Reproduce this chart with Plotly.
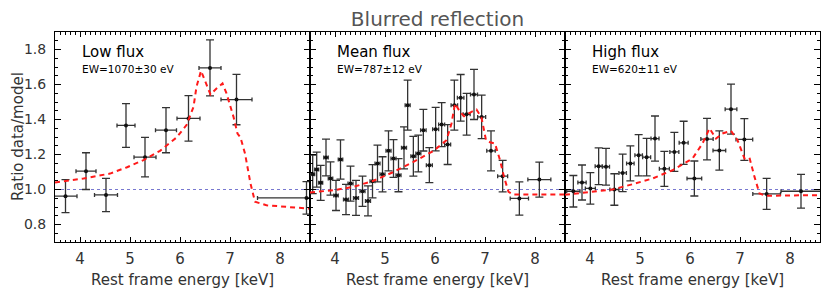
import plotly.graph_objects as go
from plotly.subplots import make_subplots

# ---------------- data ----------------
panel_names = ["Low flux", "Mean flux", "High flux"]
panel_ew = ["EW=1070±30 eV", "EW=787±12 eV", "EW=620±11 eV"]

low_x = [3.71, 4.12, 4.52, 4.92, 5.30, 5.72, 6.17, 6.60, 7.13, 8.53]
low_xerr = [0.23, 0.20, 0.23, 0.18, 0.22, 0.21, 0.23, 0.22, 0.31, 0.98]
low_y = [0.962, 1.105, 0.969, 1.366, 1.185, 1.339, 1.406, 1.695, 1.514, 0.952]
low_yerr = [0.094, 0.105, 0.095, 0.125, 0.113, 0.129, 0.130, 0.160, 0.144, 0.093]

low_model_x = [3.5, 4.07, 4.6, 4.93, 5.27, 5.6, 5.93, 6.13, 6.27, 6.33, 6.42, 6.5,
               6.61, 6.73, 6.85, 6.93, 7.07, 7.15, 7.21, 7.3, 7.41, 7.5, 7.73, 8.6]
low_model_y = [1.040, 1.063, 1.091, 1.126, 1.168, 1.221, 1.297, 1.368, 1.472, 1.587, 1.678, 1.625,
               1.543, 1.577, 1.606, 1.549, 1.415, 1.32, 1.297, 1.206, 1.034, 0.93, 0.91, 0.89]

mean_x = [3.554, 3.634, 3.714, 3.82, 3.91, 4.02, 4.11, 4.22, 4.31, 4.42, 4.55, 4.66,
          4.75, 4.85, 4.95, 5.07, 5.17, 5.27, 5.38, 5.453, 5.567, 5.667, 5.767, 5.887,
          6.013, 6.133, 6.253, 6.387, 6.513, 6.633, 6.78, 6.933, 7.12, 7.353, 7.687, 8.087]
mean_xerr = [0.04, 0.04, 0.04, 0.045, 0.045, 0.045, 0.045, 0.05, 0.05, 0.05, 0.05, 0.05,
             0.05, 0.05, 0.05, 0.05, 0.05, 0.05, 0.05, 0.05, 0.05, 0.05, 0.055, 0.06,
             0.06, 0.06, 0.06, 0.065, 0.065, 0.07, 0.07, 0.08, 0.085, 0.1, 0.183, 0.23]
mean_y = [1.087, 1.114, 1.038, 1.183, 1.063, 0.966, 1.171, 0.943, 1.034, 0.952, 0.99, 0.935,
          1.047, 1.149, 1.087, 1.221, 1.177, 1.082, 1.238, 1.482, 1.19, 1.206, 1.339, 1.139,
          1.345, 1.371, 1.257, 1.482, 1.524, 1.43, 1.543, 1.415, 1.221, 1.076, 0.949, 1.057]
mean_yerr = [0.11, 0.10, 0.10, 0.105, 0.095, 0.086, 0.112, 0.086, 0.10, 0.10, 0.086, 0.086,
             0.095, 0.105, 0.10, 0.114, 0.108, 0.095, 0.12, 0.143, 0.114, 0.105, 0.119, 0.10,
             0.124, 0.126, 0.114, 0.143, 0.133, 0.119, 0.143, 0.124, 0.114, 0.09, 0.095, 0.10]

mean_model_x = [3.5, 3.97, 4.37, 4.77, 5.17, 5.57, 5.97, 6.23, 6.33, 6.4, 6.5, 6.58,
                6.73, 6.83, 6.93, 7.02, 7.1, 7.2, 7.3, 7.38, 7.47, 7.57, 8.6]
mean_model_y = [0.983, 0.996, 1.015, 1.05, 1.10, 1.158, 1.221, 1.282, 1.377, 1.491, 1.444, 1.419,
                1.444, 1.457, 1.411, 1.282, 1.27, 1.263, 1.168, 1.072, 0.987, 0.971, 0.971]

high_x = [3.667, 3.84, 4.007, 4.173, 4.32, 4.487, 4.653, 4.807, 4.973, 5.133, 5.30,
          5.487, 5.687, 5.873, 6.087, 6.34, 6.587, 6.82, 7.087, 7.533, 8.22]
high_xerr = [0.133, 0.083, 0.10, 0.07, 0.07, 0.09, 0.075, 0.075, 0.075, 0.08, 0.08,
             0.10, 0.09, 0.09, 0.147, 0.123, 0.127, 0.117, 0.167, 0.277, 0.40]
high_y = [0.99, 1.04, 1.006, 1.133, 1.13, 1.0, 1.095, 1.149, 1.196, 1.185, 1.291,
          1.118, 1.215, 1.267, 1.063, 1.288, 1.223, 1.459, 1.286, 0.975, 0.99]
high_yerr = [0.09, 0.10, 0.09, 0.105, 0.105, 0.09, 0.107, 0.10, 0.118, 0.107, 0.129,
             0.10, 0.111, 0.123, 0.10, 0.119, 0.112, 0.143, 0.119, 0.089, 0.096]

high_model_x = [3.5, 4.05, 4.45, 4.85, 5.25, 5.65, 6.05, 6.25, 6.39, 6.52, 6.65, 6.82,
                6.95, 7.09, 7.19, 7.29, 7.39, 7.52, 8.6]
high_model_y = [0.97, 0.987, 1.0, 1.03, 1.063, 1.11, 1.177, 1.263, 1.349, 1.291, 1.32, 1.335,
                1.282, 1.177, 1.181, 1.072, 0.977, 0.964, 0.968]

x_range = [3.5, 8.6]
y_range = [0.7, 1.9]

panels = [
    (low_x, low_xerr, low_y, low_yerr, low_model_x, low_model_y),
    (mean_x, mean_xerr, mean_y, mean_yerr, mean_model_x, mean_model_y),
    (high_x, high_xerr, high_y, high_yerr, high_model_x, high_model_y),
]

# ---------------- figure ----------------
THIN = "DejaVu Sans ExtraLight, DejaVu Sans, sans-serif"
TXT = "#333333"
fig = make_subplots(rows=1, cols=3, shared_yaxes=True, horizontal_spacing=0)

for i, (dx, dxe, dy, dye, mx, my) in enumerate(panels, start=1):
    fig.add_trace(go.Scatter(x=x_range, y=[1.0, 1.0], mode="lines",
                             line=dict(color="#7878d0", width=1, dash="dot"),
                             hoverinfo="skip", showlegend=False), row=1, col=i)
    fig.add_trace(go.Scatter(
        x=dx, y=dy, mode="markers",
        marker=dict(color="#111111", size=4),
        error_x=dict(type="data", array=dxe, color="#333333", thickness=1.3, width=2),
        error_y=dict(type="data", array=dye, color="#333333", thickness=1.3, width=4),
        showlegend=False), row=1, col=i)
    fig.add_trace(go.Scatter(x=mx, y=my, mode="lines",
                             line=dict(color="#ff1a1a", width=2, dash="5px,4px"),
                             showlegend=False), row=1, col=i)

    xa = "x" if i == 1 else f"x{i}"
    ya = "y" if i == 1 else f"y{i}"
    fig.add_annotation(x=4.0, y=1.786, xref=xa, yref=ya, text=panel_names[i - 1],
                       showarrow=False, xanchor="left", yanchor="middle",
                       font=dict(family="DejaVu Sans", size=15, color="#000000"))
    fig.add_annotation(x=4.0, y=1.691, xref=xa, yref=ya, text=panel_ew[i - 1],
                       showarrow=False, xanchor="left", yanchor="middle",
                       font=dict(family="DejaVu Sans", size=10.5, color="#000000"))

axis_common = dict(showline=True, linecolor="#000000", linewidth=1, mirror="ticks",
                   ticks="inside", tickcolor="#000000", showgrid=False, zeroline=False,
                   automargin=False)

for i in range(1, 4):
    fig.update_xaxes(range=x_range, tick0=4, dtick=1, ticklen=5,
                     minor=dict(dtick=0.1, ticklen=2.5, ticks="inside", tickcolor="#000000"),
                     tickfont=dict(family=THIN, size=15, color=TXT),
                     title=dict(text="Rest frame energy [keV]",
                                font=dict(family=THIN, size=15, color=TXT), standoff=7),
                     ticklabelstandoff=3,
                     row=1, col=i, **axis_common)
    fig.update_yaxes(range=y_range, tick0=0.8, dtick=0.2, tickformat=".1f", ticklen=6,
                     minor=dict(dtick=0.05, ticklen=3, ticks="inside", tickcolor="#000000"),
                     tickfont=dict(family=THIN, size=14, color=TXT),
                     showticklabels=(i == 1), ticklabelstandoff=5,
                     row=1, col=i, **axis_common)

# y-axis title as a rotated annotation in the left margin
plot_w = 765
fig.add_annotation(x=-37 / plot_w, y=0.5, xref="paper", yref="paper",
                   text="Ratio data/model", textangle=-90, showarrow=False,
                   xanchor="center", yanchor="middle",
                   font=dict(family=THIN, size=15, color=TXT))

# the page body adds an 8px offset, so the figure is 8px smaller and shifted margins
fig.update_layout(
    width=822, height=282,
    margin=dict(l=47, r=10, t=24, b=48, autoexpand=False),
    plot_bgcolor="#ffffff", paper_bgcolor="#ffffff",
    title=dict(text="Blurred reflection", x=0.5, xref="paper", xanchor="center",
               y=1 - 11 / 282, yref="container", yanchor="middle", automargin=False,
               pad=dict(t=0, b=0),
               font=dict(family=THIN, size=20, color="#555555")),
    showlegend=False,
)

fig.write_html("out.html")
